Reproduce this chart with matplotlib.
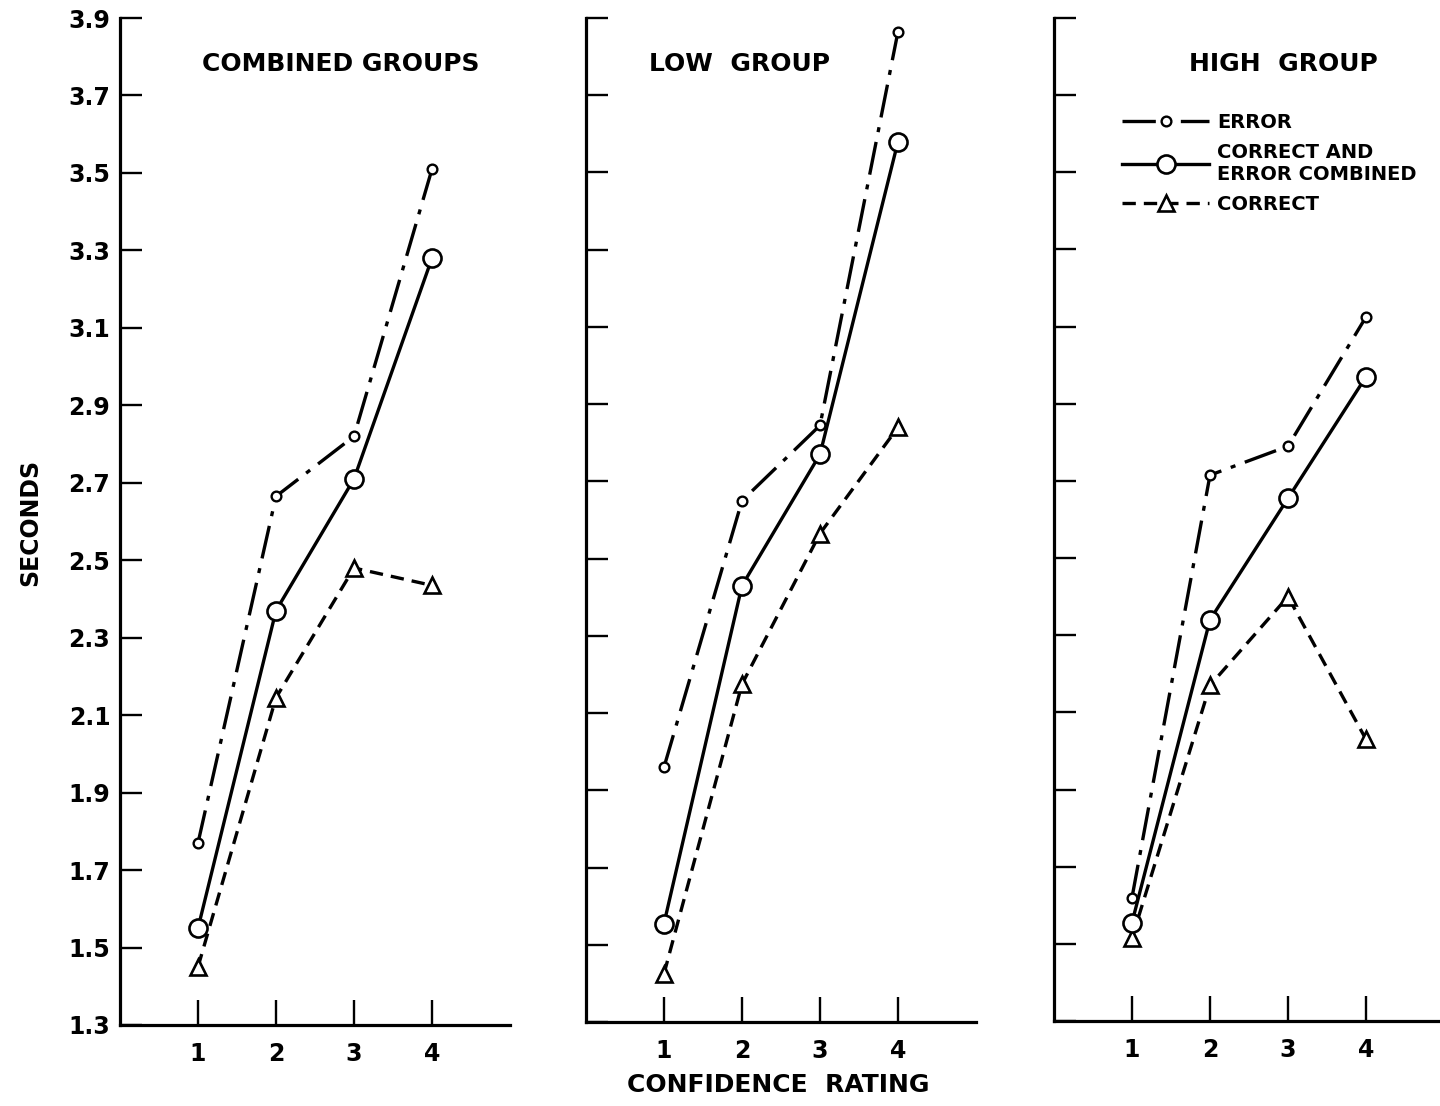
import matplotlib.pyplot as plt
from matplotlib.lines import Line2D

plt.rcParams['font.family'] = ['DejaVu Sans']
plt.rcParams['font.weight'] = 'bold'

##### data

ratings = [1, 2, 3, 4]
panel_titles = ["COMBINED GROUPS", "LOW  GROUP", "HIGH  GROUP"]

error_vals = {
    "combined": [1.77, 2.665, 2.82, 3.51],
    "low": [1.96, 2.65, 2.845, 3.865],
    "high": [1.62, 2.715, 2.79, 3.125],
}
both_vals = {
    "combined": [1.55, 2.37, 2.71, 3.28],
    "low": [1.555, 2.43, 2.77, 3.58],
    "high": [1.555, 2.34, 2.655, 2.97],
}
correct_vals = {
    "combined": [1.45, 2.145, 2.48, 2.435],
    "low": [1.425, 2.175, 2.565, 2.84],
    "high": [1.515, 2.17, 2.40, 2.03],
}

yticks = [1.3, 1.5, 1.7, 1.9, 2.1, 2.3, 2.5, 2.7, 2.9, 3.1, 3.3, 3.5, 3.7, 3.9]
ytick_labels = ["1.3", "1.5", "1.7", "1.9", "2.1", "2.3", "2.5", "2.7",
                "2.9", "3.1", "3.3", "3.5", "3.7", "3.9"]

legend_labels = ["ERROR", "CORRECT AND\nERROR COMBINED", "CORRECT"]

##### styles

LW = 2.4
err_style = dict(color="black", lw=LW, ls=(0, (10, 3, 1.5, 3)), marker="o",
                 ms=7, mfc="white", mec="black", mew=1.7)
both_style = dict(color="black", lw=LW, ls="-", marker="o",
                  ms=13, mfc="white", mec="black", mew=1.9)
corr_style = dict(color="black", lw=LW, ls=(0, (4, 2.4)), marker="^",
                  ms=12, mfc="white", mec="black", mew=1.9)


def _ax_panel(ax, key, title, title_x, title_y, show_ylabels):
    """ one panel of the figure """
    ax.plot(ratings, error_vals[key], **err_style, zorder=3)
    ax.plot(ratings, both_vals[key], **both_style, zorder=4)
    ax.plot(ratings, correct_vals[key], **corr_style, zorder=3)

    ax.set_xlim(0, 5)
    ax.set_ylim(1.3, 3.9)
    ax.set_xticks(ratings)
    ax.set_xticklabels([str(r) for r in ratings])
    ax.set_yticks(yticks)
    if show_ylabels:
        ax.set_yticklabels(ytick_labels)
    else:
        ax.set_yticklabels([])

    for s in ["top", "right"]:
        ax.spines[s].set_visible(False)
    for s in ["left", "bottom"]:
        ax.spines[s].set_linewidth(2.3)

    ax.tick_params(axis="y", direction="in", length=16, width=1.7, pad=7, labelsize=17)
    ax.tick_params(axis="x", direction="in", length=18, width=1.7, pad=12, labelsize=17)

    ax.text(title_x, title_y, title, ha="center", va="center", fontsize=18)


fig = plt.figure(figsize=(14.4, 11.06), dpi=100)
W, H = 1440.0, 1106.0

# axes boxes from pixel positions: left, top, right, bottom
boxes = [(120, 18, 510, 1025), (586, 18, 976, 1022), (1054, 18, 1444, 1021)]
keys = ["combined", "low", "high"]
title_pos = [(2.83, 3.78), (1.97, 3.78), (2.94, 3.78)]

axes = []
for i, (l, t, r, b) in enumerate(boxes):
    ax = fig.add_axes([l / W, 1 - b / H, (r - l) / W, (b - t) / H])
    _ax_panel(ax, keys[i], panel_titles[i], title_pos[i][0], title_pos[i][1], i == 0)
    axes.append(ax)

fig.text(30 / W, 1 - 522 / H, "SECONDS", rotation=90, ha="center", va="center", fontsize=17)
fig.text(778 / W, 1 - 1085 / H, "CONFIDENCE  RATING", ha="center", va="center", fontsize=18)

handles = [Line2D([], [], **err_style), Line2D([], [], **both_style), Line2D([], [], **corr_style)]
axes[2].legend(handles, legend_labels, loc="upper left", bbox_to_anchor=(0.174, 0.905),
               frameon=False, prop={"size": 14, "weight": "bold"}, handlelength=4.5,
               handletextpad=0.4, borderpad=0, borderaxespad=0, labelspacing=0.55)

plt.savefig("out.png", dpi=100, facecolor="white")
